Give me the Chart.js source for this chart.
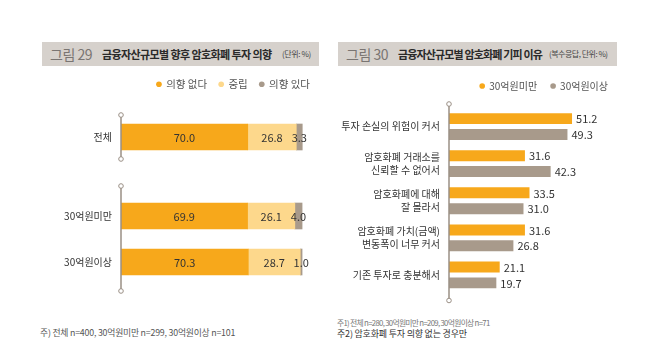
<!DOCTYPE html>
<html><head><meta charset="utf-8">
<script src="https://cdn.jsdelivr.net/npm/chart.js@4.4.1/dist/chart.umd.min.js"></script>
<style>
body{margin:0;width:658px;height:345px;background:#fff;position:relative;overflow:hidden;font-family:"Noto Sans CJK KR","Noto Sans",sans-serif;}
.wrap{position:absolute;}
.title{position:absolute;top:42px;height:24px;background:#d6d1cc;white-space:nowrap;}
.title span{position:absolute;top:50%;transform:translateY(-50%);line-height:1}
.title .num{color:#7a7572;font-size:14px;letter-spacing:-0.5px}
.title .main{color:#2a2a2a;font-size:11px;font-weight:bold;letter-spacing:-0.6px}
.title .unit{color:#444;font-size:8px;letter-spacing:-0.4px}
.note{position:absolute;color:#555;white-space:nowrap}
</style></head>
<body>
<div class="title" style="left:42px;width:277px"><span class="num" style="left:8px">그림 29</span><span class="main" style="left:60px">금융자산규모별 향후 암호화폐 투자 의향</span><span class="unit" style="left:240px">(단위: %)</span></div>
<div class="title" style="left:338px;width:279px"><span class="num" style="left:8px">그림 30</span><span class="main" style="left:60px;letter-spacing:-0.85px">금융자산규모별 암호화폐 기피 이유</span><span class="unit" style="left:211px;letter-spacing:-0.5px">(복수응답, 단위: %)</span></div>

<div class="wrap" style="left:0;top:67px;width:322px;height:107px"><canvas id="cA"></canvas></div>
<div class="wrap" style="left:0;top:178px;width:322px;height:122px"><canvas id="cB"></canvas></div>
<div class="wrap" style="left:330px;top:67px;width:292px;height:242px"><canvas id="cR"></canvas></div>

<div class="note" style="left:40px;top:326px;font-size:8.8px;letter-spacing:-0.2px">주) 전체 n=400, 30억원미만 n=299, 30억원이상 n=101</div>
<div class="note" style="left:337px;top:317px;font-size:7.8px;letter-spacing:-0.7px;color:#777">주1) 전체 n=280, 30억원미만 n=209, 30억원이상 n=71</div>
<div class="note" style="left:337px;top:327px;font-size:9px;letter-spacing:-0.2px;color:#333">주2) 암호화폐 투자 의향 없는 경우만</div>

<script>
// ---- Data: figure 29 ----
const seriesNames29 = ["의향 없다", "중립", "의향 있다"];
const catsTotal = ["전체"];
const catsBySize = ["30억원미만", "30억원이상"];
const noIntentTotal = [70.0];
const neutralTotal = [26.8];
const intentTotal = [3.3];
const noIntentBySize = [69.9, 70.3];
const neutralBySize = [26.1, 28.7];
const intentBySize = [4.0, 1.0];

// ---- Data: figure 30 ----
const seriesNames30 = ["30억원미만", "30억원이상"];
const reasons = [
  ["투자 손실의 위험이 커서"],
  ["암호화폐 거래소를", "신뢰할 수 없어서"],
  ["암호화폐에 대해", "잘 몰라서"],
  ["암호화폐 가치(금액)", "변동폭이 너무 커서"],
  ["기존 투자로 충분해서"]
];
const under30 = [51.2, 31.6, 33.5, 31.6, 21.1];
const over30 = [49.3, 42.3, 31.0, 26.8, 19.7];

const ORANGE = "#f7a81b", LIGHT = "#fdd88c", GRAY = "#a89a8b";
const FONT = "'Noto Sans CJK KR', 'Noto Sans', sans-serif";
Chart.defaults.font.family = FONT;
Chart.defaults.animation = false;

const axisLine = {
  id: "axisLine",
  afterDatasetsDraw(chart, args, o) {
    const ctx = chart.ctx, a = chart.chartArea;
    const x = a.left, y1 = a.top - (o.extTop || 0), y2 = a.bottom + (o.extBottom || 0);
    ctx.save();
    ctx.strokeStyle = "#9a8f85"; ctx.lineWidth = 1.5;
    ctx.beginPath(); ctx.moveTo(x, y1); ctx.lineTo(x, y2); ctx.stroke();
    ctx.lineWidth = 1;
    [y1, y2].forEach(y => { ctx.beginPath(); ctx.arc(x, y, 2.3, 0, Math.PI * 2); ctx.fillStyle = "#fff"; ctx.fill(); ctx.stroke(); });
    ctx.restore();
  }
};
const valueLabels = {
  id: "valueLabels",
  afterDatasetsDraw(chart, args, o) {
    const ctx = chart.ctx;
    ctx.save();
    ctx.font = (o.size || 11) + "px " + FONT;
    ctx.fillStyle = "#333"; ctx.textBaseline = "middle";
    chart.data.datasets.forEach((ds, i) => {
      chart.getDatasetMeta(i).data.forEach((bar, j) => {
        const t = ds.data[j].toFixed(1);
        if (o.mode === "center") { ctx.textAlign = "center"; ctx.fillText(t, (bar.x + bar.base) / 2, bar.y + 0.5); }
        else { ctx.textAlign = "left"; ctx.fillText(t, bar.x + 4, bar.y + 0.5); }
      });
    });
    ctx.restore();
  }
};

function topSpacer(targetTop, canvasTop) {
  return { position: "top", display: true, grid: { display: false }, border: { display: false }, ticks: { display: false },
    afterFit(s) { const lh = s.chart.legend && s.chart.options.plugins.legend.display !== false ? s.chart.legend.height : 0; s.height = Math.max(0, targetTop - canvasTop - lh); } };
}

function stackedChart(id, cats, a, b, c, opts) {
  const legendOn = opts.legend;
  return new Chart(document.getElementById(id), {
    type: "bar",
    data: { labels: cats, datasets: [
      { label: seriesNames29[0], data: a, backgroundColor: ORANGE },
      { label: seriesNames29[1], data: b, backgroundColor: LIGHT },
      { label: seriesNames29[2], data: c, backgroundColor: GRAY }
    ]},
    options: {
      indexAxis: "y", responsive: true, maintainAspectRatio: false,
      datasets: { bar: { barThickness: 26, borderWidth: 0 } },
      layout: { padding: opts.padding },
      scales: {
        x: Object.assign(topSpacer(opts.areaTop, opts.canvasTop), { stacked: true, min: 0, max: 111 }),
        y: { stacked: true, grid: { display: false, drawTicks: false }, border: { display: false },
             ticks: { color: "#333", font: { size: 10 }, padding: 9 },
             afterFit(s) { s.width = 121; } }
      },
      plugins: {
        legend: { display: legendOn, align: "end",
          labels: { usePointStyle: true, pointStyle: "circle", boxWidth: 4, boxHeight: 4, color: "#555", font: { size: 10.5 }, padding: 12 } },
        tooltip: { enabled: false },
        axisLine: opts.line,
        valueLabels: { mode: "center", size: 11 }
      }
    },
    plugins: [axisLine, valueLabels]
  });
}

stackedChart("cA", catsTotal, noIntentTotal, neutralTotal, intentTotal,
  { legend: true, padding: { bottom: 6 }, areaTop: 115, canvasTop: 67, line: { extTop: 0, extBottom: 0 } });
stackedChart("cB", catsBySize, noIntentBySize, neutralBySize, intentBySize,
  { legend: false, padding: { bottom: 12 }, areaTop: 192, canvasTop: 178, line: { extTop: 7, extBottom: 6 } });

new Chart(document.getElementById("cR"), {
  type: "bar",
  data: { labels: reasons, datasets: [
    { label: seriesNames30[0], data: under30, backgroundColor: ORANGE },
    { label: seriesNames30[1], data: over30, backgroundColor: GRAY }
  ]},
  options: {
    indexAxis: "y", responsive: true, maintainAspectRatio: false,
    datasets: { bar: { categoryPercentage: 0.855, barPercentage: 0.69, borderWidth: 0 } },
    layout: { padding: { bottom: 14 } },
    scales: {
      x: Object.assign(topSpacer(108, 67), { min: 0, max: 72 }),
      y: { grid: { display: false, drawTicks: false }, border: { display: false },
           ticks: { color: "#333", font: { size: 10, lineHeight: 1.3 }, padding: 9 },
           afterFit(s) { s.width = 119; } }
    },
    plugins: {
      legend: { align: "end",
        labels: { usePointStyle: true, pointStyle: "circle", boxWidth: 4, boxHeight: 4, color: "#555", font: { size: 10 }, padding: 14 } },
      tooltip: { enabled: false },
      axisLine: { extTop: 4, extBottom: 7 },
      valueLabels: { mode: "end", size: 11 }
    }
  },
  plugins: [axisLine, valueLabels]
});
</script>
</body></html>
